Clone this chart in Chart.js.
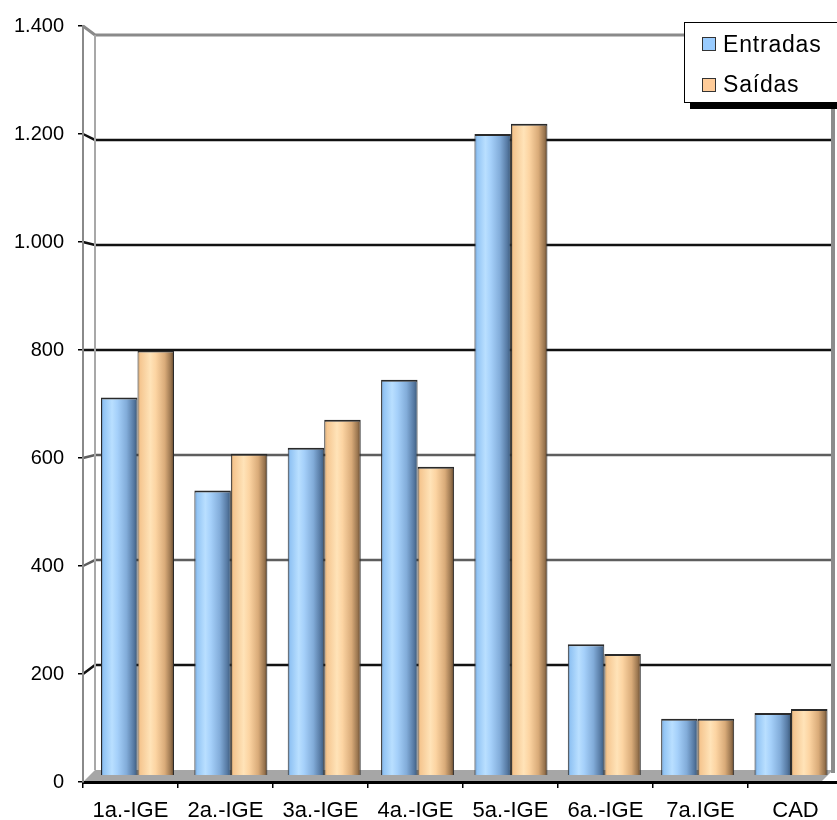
<!DOCTYPE html>
<html>
<head>
<meta charset="utf-8">
<script src="https://cdn.jsdelivr.net/npm/chart.js@4.4.1/dist/chart.umd.min.js"></script>
<style>
  html, body { margin: 0; padding: 0; background: #fff; overflow: hidden; }
  #wrap { position: relative; width: 837px; height: 820px; overflow: hidden; }
  #c { display: block; position: absolute; left: 0; top: 0; }
  #legend { position: absolute; left: 684px; top: 22px; width: 175px; height: 79px;
            border: 1px solid #000; background: #fff; box-shadow: 6px 6px 0 #000; }
  .sw { position: absolute; left: 17px; width: 12px; height: 12px; border: 1px solid #333; }
  .lt { position: absolute; left: 38px; font-family: "Liberation Sans", Arial, sans-serif;
        font-size: 23px; line-height: 23px; letter-spacing: 0.8px; color: #000; white-space: nowrap; }
</style>
</head>
<body>
<div id="wrap">
  <canvas id="c" width="860" height="820"></canvas>
  <div id="legend"></div>
</div>
<script>
// ---- data ----
const categories = ['1a.-IGE', '2a.-IGE', '3a.-IGE', '4a.-IGE', '5a.-IGE', '6a.-IGE', '7a.IGE', 'CAD'];
const seriesNames = ['Entradas', 'Saídas'];
const entradas = [712, 540, 619, 745, 1200, 255, 117, 128];
const saidas = [799, 608, 671, 584, 1219, 237, 117, 135];
const yTicks = [0, 200, 400, 600, 800, 1000, 1200, 1400];

// ---- styles ----
const legendColors = ['#99ccff', '#ffcc99'];
const gridColors = ['rgba(0,0,0,0)', '#111', '#5e5e5e', '#5e5e5e', '#111', '#111', '#111', '#8a8a8a'];
const gridWidths = [0, 2.5, 2.5, 2.5, 2.5, 2.5, 2.5, 3];
const gradStops = [
  [[0, '#5d80a8'], [0.07, '#92c4f4'], [0.3, '#b9dfff'], [0.45, '#a5d0fa'], [0.7, '#82acd9'], [0.9, '#5679a2'], [1, '#3a5878']],
  [[0, '#a88458'], [0.07, '#f5c690'], [0.35, '#ffe3b8'], [0.5, '#fcd4a2'], [0.75, '#d9ab79'], [0.92, '#98744e'], [1, '#5a4028']]
];
const CAT_PCT = 0.782;

function fmt(v) { return String(v).replace(/\B(?=(\d{3})+(?!\d))/g, '.'); }

function barGradient(ctx, dsIndex) {
  const chart = ctx.chart;
  const xb = chart.scales && chart.scales.xb;
  if (!chart.chartArea || !xb || ctx.dataIndex === undefined) return legendColors[dsIndex];
  const c = xb.getPixelForValue(ctx.dataIndex);
  const step = xb.getPixelForValue(1) - xb.getPixelForValue(0);
  const half = step * CAT_PCT / 2;
  const x0 = dsIndex === 0 ? c - half : c;
  const x1 = x0 + half;
  if (!isFinite(x0) || !isFinite(x1)) return legendColors[dsIndex];
  const g = chart.ctx.createLinearGradient(x0, 0, x1, 0);
  gradStops[dsIndex].forEach(s => g.addColorStop(s[0], s[1]));
  return g;
}

const wallPlugin = {
  id: 'wall',
  beforeDraw(chart) {
    const { ctx, chartArea: a, scales: { y, y2 } } = chart;
    const depthX = 12;
    const backL = a.left + depthX;
    const backR = a.right - 10;
    const top2 = y2.getPixelForValue(yTicks[yTicks.length - 1]);
    const floor2 = y2.getPixelForValue(0);
    const floor1 = y.getPixelForValue(0);
    ctx.save();
    ctx.fillStyle = '#a6a6a6';
    ctx.beginPath();
    ctx.moveTo(backL, floor2);
    ctx.lineTo(backR, floor2);
    ctx.lineTo(backR - depthX, floor1);
    ctx.lineTo(a.left, floor1);
    ctx.closePath();
    ctx.fill();
    yTicks.forEach((v, i) => {
      if (!gridWidths[i]) return;
      const yb = y2.getPixelForValue(v), yf = y.getPixelForValue(v);
      ctx.strokeStyle = gridColors[i];
      ctx.lineWidth = gridWidths[i];
      ctx.beginPath();
      ctx.moveTo(a.left, yf);
      ctx.lineTo(backL, yb);
      ctx.lineTo(backR, yb);
      ctx.stroke();
    });
    ctx.strokeStyle = '#a8a8a8';
    ctx.lineWidth = 2;
    ctx.beginPath();
    ctx.moveTo(backL, top2);
    ctx.lineTo(backL, floor2);
    ctx.stroke();
    ctx.strokeStyle = '#8c8c8c';
    ctx.lineWidth = 4;
    ctx.beginPath();
    ctx.moveTo(backR, top2 - 1);
    ctx.lineTo(backR, floor2 + 3);
    ctx.stroke();
    ctx.restore();
  }
};

const seriesData = [entradas, saidas];
const datasets = seriesData.map((arr, di) => ({
  label: seriesNames[di],
  data: arr.map((v, i) => ({ x: i, y: v })),
  xAxisID: 'xb',
  yAxisID: 'y',
  base: 13,
  categoryPercentage: CAT_PCT,
  barPercentage: 1,
  backgroundColor: (ctx) => barGradient(ctx, di),
  borderColor: '#2a2a2a',
  borderWidth: { top: 2, left: 1, right: 1, bottom: 0 },
  borderSkipped: false
}));

new Chart(document.getElementById('c'), {
  type: 'bar',
  data: { labels: categories, datasets },
  options: {
    responsive: false,
    animation: false,
    devicePixelRatio: 1,
    layout: { padding: { left: 0, top: 24, right: 17, bottom: 0 } },
    plugins: { legend: { display: false }, tooltip: { enabled: false } },
    scales: {
      x: {
        type: 'category',
        position: 'bottom',
        offset: true,
        grid: { offset: true, drawOnChartArea: false, tickLength: 6, color: '#000', lineWidth: 1.5 },
        border: { color: '#000', width: 3 },
        ticks: { font: { family: '"Liberation Sans", Arial, sans-serif', size: 22 }, color: '#000', padding: 10, maxRotation: 0, autoSkip: false },
        afterFit: (s) => { s.height = 38; }
      },
      xb: { type: 'linear', display: false, offset: false, bounds: 'data', grace: 0, min: -0.5838, max: 7.5567,
            grid: { offset: false },
            afterBuildTicks: (s) => { s.ticks = categories.map((_, i) => ({ value: i })); } },
      y: {
        position: 'left',
        min: 0, max: 1400,
        afterBuildTicks: (s) => { s.ticks = yTicks.map(v => ({ value: v })); },
        grid: { drawOnChartArea: false, tickLength: 5, color: '#000', lineWidth: 1.5 },
        border: { color: '#8a8a8a', width: 2 },
        ticks: { font: { family: '"Liberation Sans", Arial, sans-serif', size: 20 }, color: '#000', padding: 14, callback: (v) => fmt(v) },
        afterFit: (s) => { s.width = 83; }
      },
      y2: { position: 'right', display: false, min: -22.8, max: 1417.1 }
    }
  },
  plugins: [wallPlugin]
});

const lg = document.getElementById('legend');
seriesNames.forEach((name, i) => {
  const sw = document.createElement('div');
  sw.className = 'sw';
  sw.style.top = (14 + i * 41) + 'px';
  sw.style.background = legendColors[i];
  const t = document.createElement('div');
  t.className = 'lt';
  t.style.top = (9.5 + i * 40) + 'px';
  t.textContent = name;
  lg.appendChild(sw);
  lg.appendChild(t);
});
</script>
</body>
</html>
